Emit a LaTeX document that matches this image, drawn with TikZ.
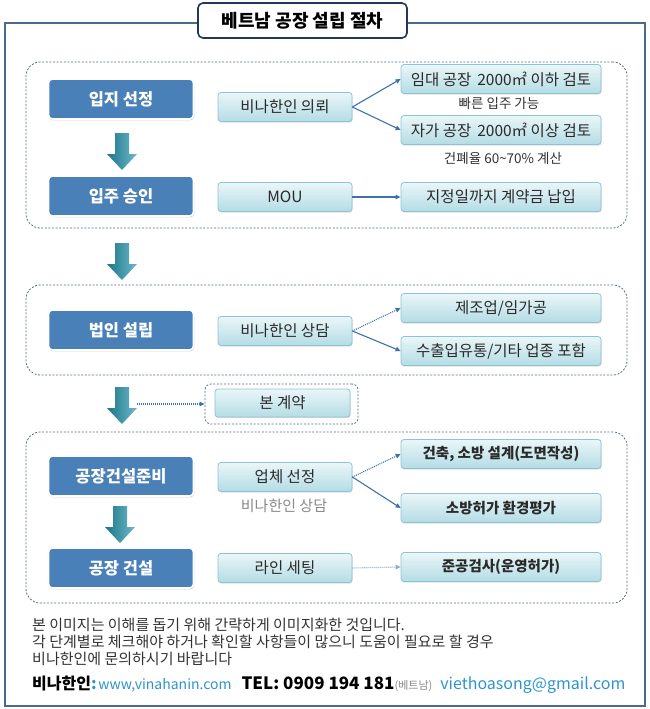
\documentclass[tikz,border=0pt]{standalone}
\usepackage{fontspec}
\setmainfont{Noto Sans CJK KR}
\usetikzlibrary{arrows.meta,shadows}
\definecolor{frameC}{HTML}{4A6B8E}
\definecolor{titleC}{HTML}{22385A}
\definecolor{grpC}{HTML}{566D8A}
\definecolor{boxblue}{HTML}{4A80B8}
\definecolor{liteTop}{HTML}{EAF6F8}
\definecolor{liteBot}{HTML}{B4DCE5}
\definecolor{liteBorder}{HTML}{8CC4D2}
\definecolor{txtdark}{HTML}{2A2A2A}
\definecolor{connC}{HTML}{3E72AA}
\definecolor{arrA}{HTML}{1C7688}
\definecolor{arrB}{HTML}{6DB9C8}
\definecolor{linkblue}{HTML}{2E95CC}
\definecolor{noteC}{HTML}{333333}
\definecolor{grayC}{HTML}{8A8A8A}
\begin{document}
\begin{tikzpicture}[x=1pt,y=-1pt,
  leftbox/.style={rectangle, rounded corners=4pt, fill=boxblue, draw=white, line width=1.6pt,
    minimum width=145, minimum height=40, inner sep=0, text=white,
    font=\bfseries\fontsize{16.5}{16.5}\selectfont,
    drop shadow={opacity=0.35, shadow xshift=0.8pt, shadow yshift=-1.4pt}},
  litebox/.style={rectangle, rounded corners=3pt, top color=liteTop, bottom color=liteBot,
    draw=liteBorder, line width=0.8pt, minimum height=29, inner sep=0, text=txtdark,
    font=\fontsize{15.5}{15.5}\selectfont,
    drop shadow={opacity=0.25, shadow xshift=0.6pt, shadow yshift=-1.2pt}},
  midbox/.style={litebox, minimum width=134},
  rightbox/.style={litebox, minimum width=200},
  boldbox/.style={rightbox, font=\bfseries\fontsize{14.5}{14.5}\selectfont},
  grp/.style={rectangle, draw=grpC, dash pattern=on 2pt off 1.6pt, line width=0.8pt,
    rounded corners=14pt, inner sep=0},
  conn/.style={draw=connC, line width=1.1pt, -{Triangle[length=5pt,width=4.5pt]}},
  dconn/.style={conn, dash pattern=on 1pt off 1pt},
  note/.style={anchor=base west, inner sep=0, text=noteC, font=\fontsize{15}{15}\selectfont},
  small/.style={inner sep=0, text=noteC, font=\fontsize{13.5}{13.5}\selectfont},
  bigarrow/.pic={\shade[left color=arrA, right color=arrB]
    (-7,0) -- (7,0) -- (7,21) -- (15,21) -- (0,37) -- (-15,21) -- (-7,21) -- cycle;}
]
\useasboundingbox (0,0) rectangle (649,709);
\fill[white] (0,0) rectangle (649,709);

% outer frame and title
\node[rectangle, draw=frameC, line width=1.6pt, minimum width=640, minimum height=683, inner sep=0] (frame) at (325,364.5) {};
\node[rectangle, draw=titleC, line width=1.6pt, rounded corners=5pt, fill=white, minimum width=209, minimum height=35,
  inner sep=0, font=\bfseries\fontsize{18}{18}\selectfont] (title) at (302.5,20.5) {베트남 공장 설립 절차};

% groups
\node[grp, minimum width=601, minimum height=166] (g1) at (326.5,145) {};
\node[grp, minimum width=601, minimum height=90] (g2) at (326.5,330) {};
\node[grp, minimum width=153, minimum height=40, rounded corners=6pt] (bonframe) at (281.5,404) {};
\node[grp, minimum width=601, minimum height=171] (g3) at (326.5,517.5) {};

% left boxes
\node[leftbox] (s1) at (121,99) {입지 선정};
\node[leftbox] (s2) at (121,196) {입주 승인};
\node[leftbox] (s3) at (121,330) {법인 설립};
\node[leftbox] (s4) at (121,476) {공장건설준비};
\node[leftbox] (s5) at (121,568) {공장 건설};

% big arrows
\pic at (122,133) {bigarrow};
\pic at (122,243) {bigarrow};
\pic at (122,387) {bigarrow};
\pic at (120,506) {bigarrow};

% middle boxes
\node[midbox] (m1) at (285,107) {비나한인 의뢰};
\node[midbox] (m2) at (285,197) {MOU};
\node[midbox] (m3) at (285,331) {비나한인 상담};
\node[midbox, minimum width=135, minimum height=28] (bon) at (282.5,403) {본 계약};
\node[midbox] (m4) at (285,477) {업체 선정};
\node[midbox] (m5) at (285,568) {라인 세팅};

% right boxes
\node[rightbox] (r1) at (501,79) {임대 공장\hspace{6pt}2000㎡ 이하 검토};
\node[rightbox] (r2) at (501,130) {자가 공장\hspace{6pt}2000㎡ 이상 검토};
\node[rightbox] (r3) at (501,197) {지정일까지 계약금 납입};
\node[rightbox] (r4) at (501,308) {제조업/임가공};
\node[rightbox] (r5) at (501,351) {수출입유통/기타 업종 포함};
\node[boldbox] (r6) at (501,454) {건축, 소방 설계(도면작성)};
\node[boldbox] (r7) at (501,508) {소방허가 환경평가};
\node[boldbox] (r8) at (501,567) {준공검사(운영허가)};

% side labels
\node[small] (l1) at (499,103) {빠른 입주 가능};
\node[small] (l2) at (503,158) {건폐율 60\textasciitilde70\% 계산};
\node[small, text=grayC, font=\fontsize{15}{15}\selectfont] (l3) at (284,506) {비나한인 상담};

% connectors
\draw[conn] (m1.east) -- (r1.west);
\draw[conn] (m1.east) -- (r2.west);
\draw[conn] (m2.east) -- (r3.west);
\draw[dconn] (m3.east) -- (r4.west);
\draw[conn] (m3.east) -- (r5.west);
\coordinate (a3r) at (137,404);
\draw[dconn] (a3r) -- (bonframe.west);
\draw[dconn] (m4.east) -- (r6.west);
\draw[conn] (m4.east) -- (r7.west);
\draw[dconn, draw=connC!60] (m5.east) -- (r8.west);

% notes
\node[note] (n1) at (32,630.5) {본 이미지는 이해를 돕기 위해 간략하게 이미지화한 것입니다.};
\node[note] (n2) at (32,647) {각 단계별로 체크해야 하거나 확인할 사항들이 많으니 도움이 필요로 할 경우};
\node[note] (n3) at (32,664) {비나한인에 문의하시기 바랍니다};
\node[anchor=base west, inner sep=0] (contact) at (32,689) {{\bfseries\fontsize{16}{16}\selectfont 비나한인}{\color{linkblue}\bfseries\fontsize{16}{16}\selectfont:}\,{\color{linkblue}\fontsize{14}{14}\selectfont www,vinahanin.com}\hspace{10pt}{\bfseries\fontsize{17}{17}\selectfont TEL: 0909 194 181}{\color{grayC}\fontsize{11}{11}\selectfont(베트남)}\hspace{8pt}{\color{linkblue}\fontsize{16}{16}\selectfont viethoasong@gmail.com}};
\end{tikzpicture}
\end{document}
